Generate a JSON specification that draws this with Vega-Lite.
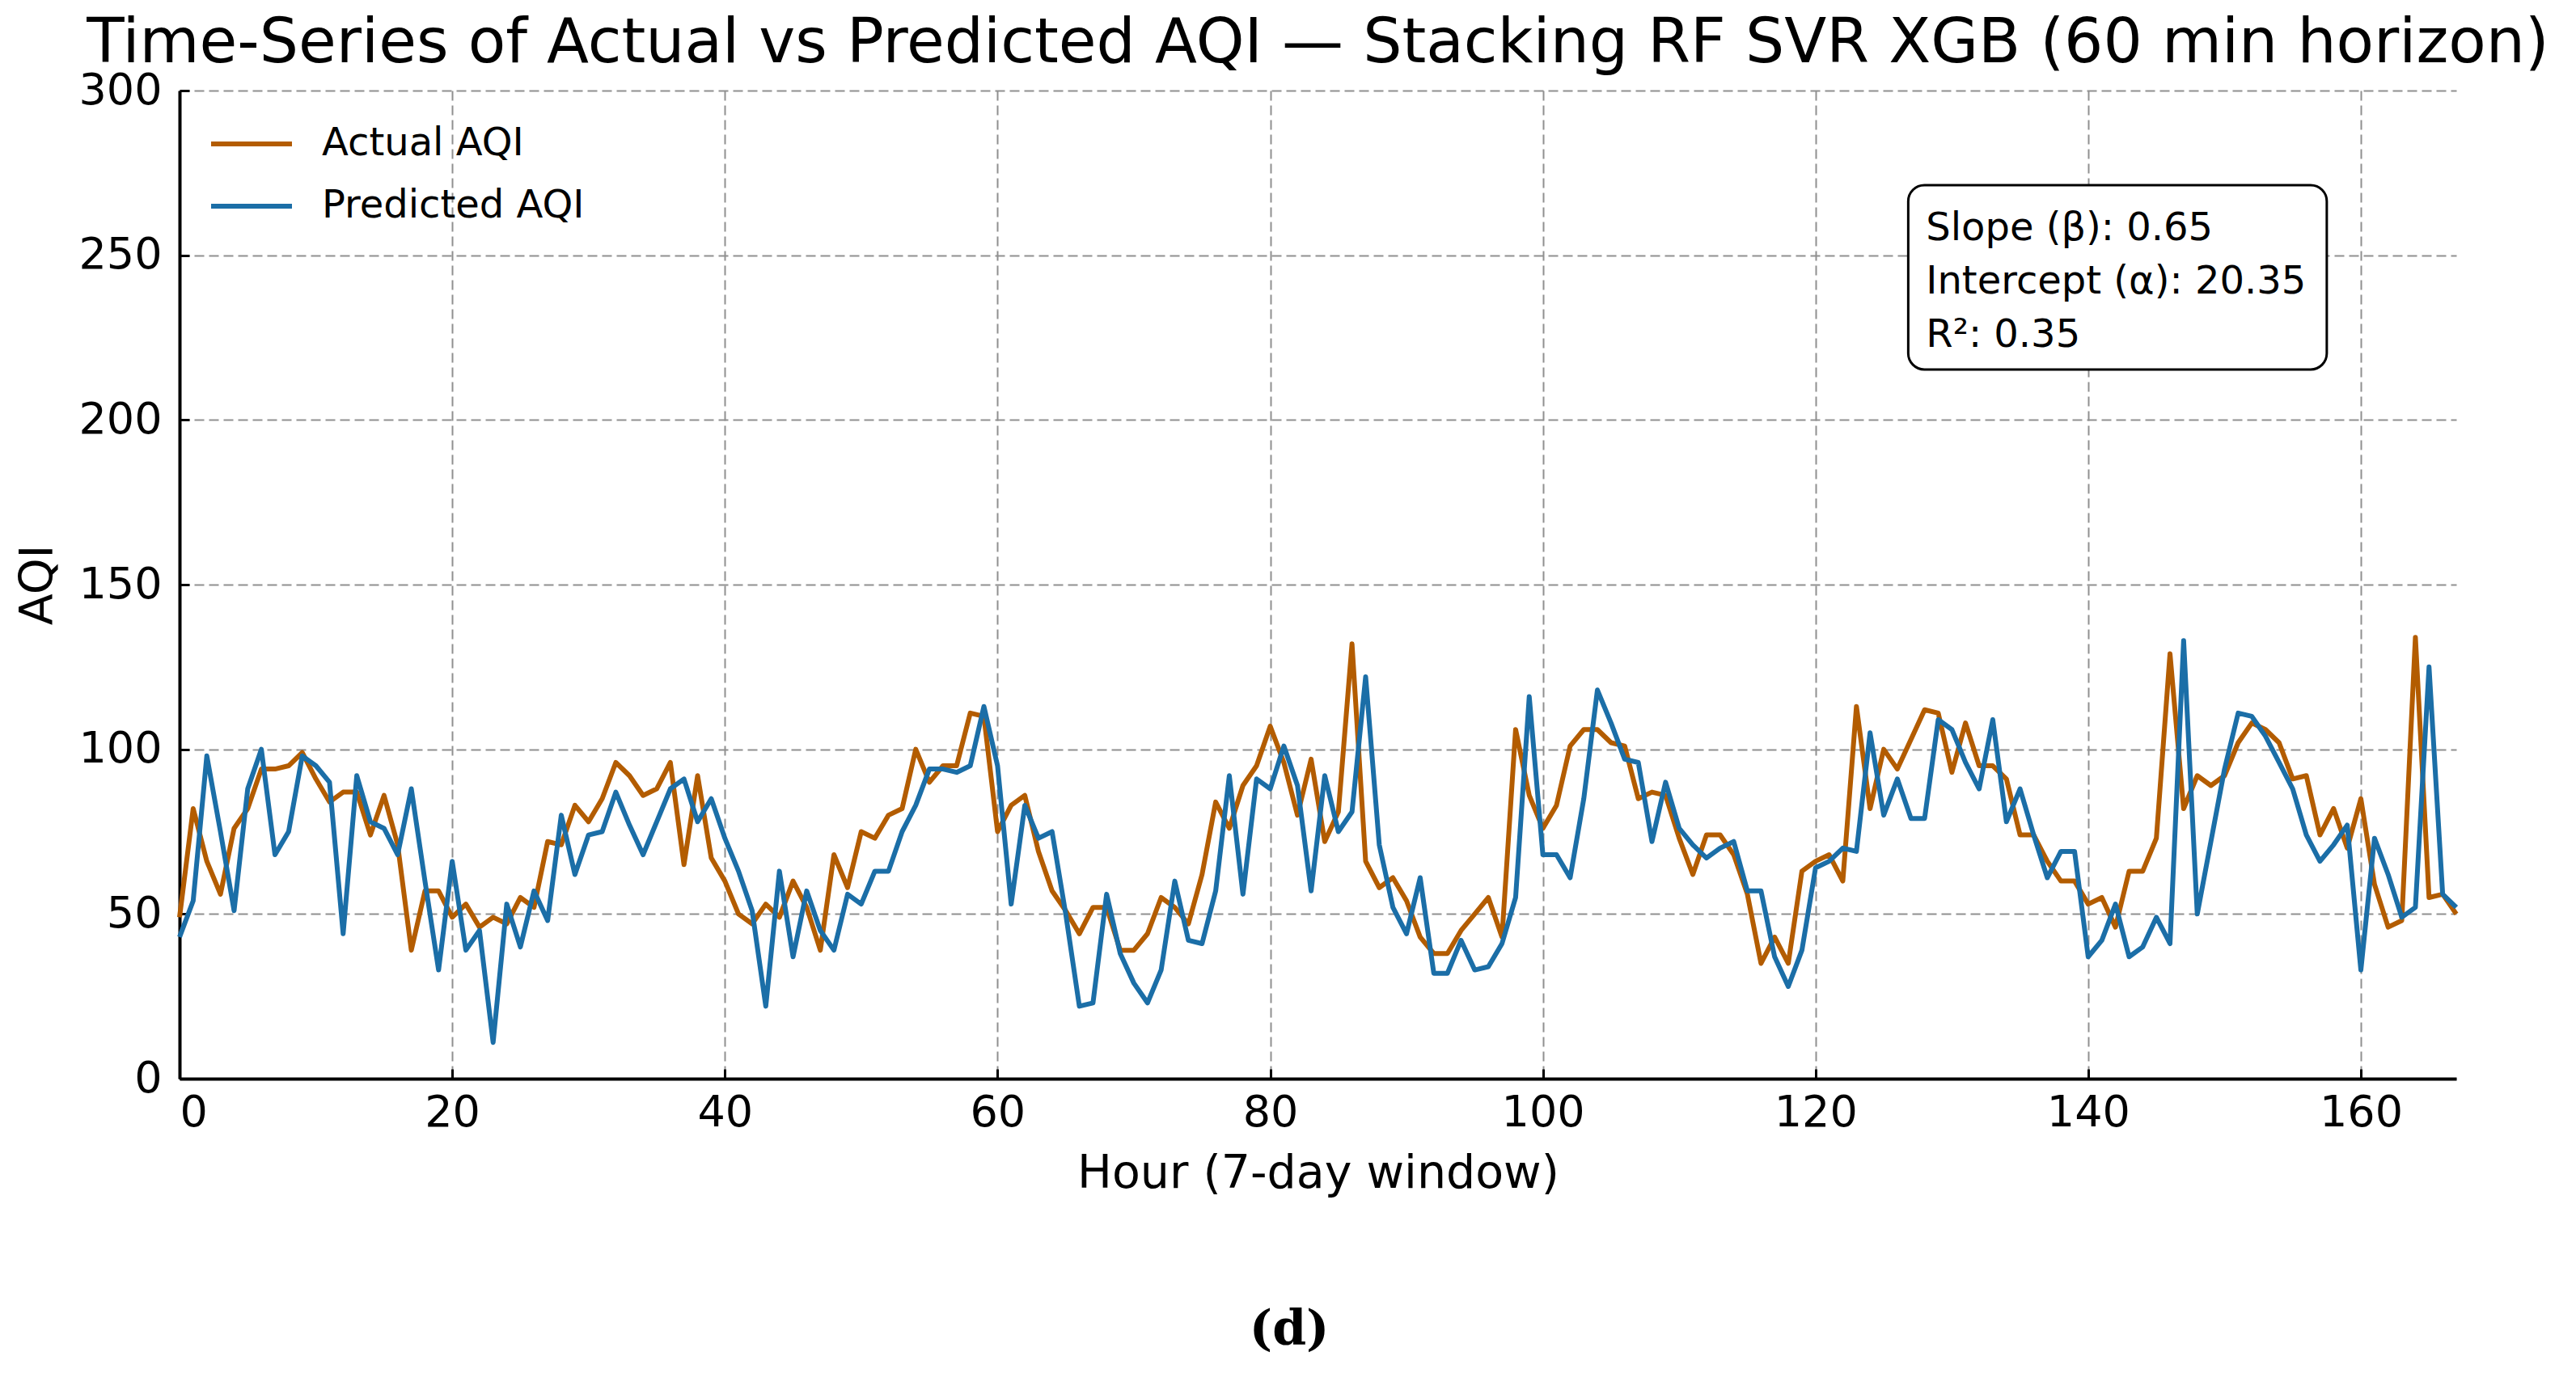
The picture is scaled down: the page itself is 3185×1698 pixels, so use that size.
{
  "$schema": "https://vega.github.io/schema/vega-lite/v6.json",
  "width": 2815,
  "height": 1222,
  "autosize": {"type": "none"},
  "padding": {"left": 222, "top": 112, "right": 148, "bottom": 364},
  "background": "white",
  "title": {
    "text": "Time-Series of Actual vs Predicted AQI — Stacking RF SVR XGB (60 min horizon)",
    "font": "DejaVu Sans",
    "fontSize": 76,
    "fontWeight": "normal",
    "color": "black",
    "anchor": "middle",
    "frame": "group",
    "offset": 14,
    "dy": 22
  },
  "config": {
    "view": {"stroke": null},
    "axis": {
      "grid": true,
      "gridDash": [12, 6],
      "gridColor": "#909090",
      "gridWidth": 2,
      "domainColor": "black",
      "domainWidth": 4,
      "tickColor": "black",
      "tickWidth": 3,
      "tickSize": -12,
      "labelFont": "DejaVu Sans",
      "labelFontSize": 54,
      "labelColor": "black",
      "titleFont": "DejaVu Sans",
      "titleFontSize": 57,
      "titleFontWeight": "normal",
      "titleColor": "black"
    },
    "legend": {
      "labelFont": "DejaVu Sans",
      "labelFontSize": 48,
      "labelColor": "black",
      "labelLimit": 0
    }
  },
  "layer": [
    {
      "data": {
        "values": [
          {"hour": 0, "Actual AQI": 49, "Predicted AQI": 43},
          {"hour": 1, "Actual AQI": 82, "Predicted AQI": 54},
          {"hour": 2, "Actual AQI": 66, "Predicted AQI": 98},
          {"hour": 3, "Actual AQI": 56, "Predicted AQI": 75},
          {"hour": 4, "Actual AQI": 76, "Predicted AQI": 51},
          {"hour": 5, "Actual AQI": 82, "Predicted AQI": 88},
          {"hour": 6, "Actual AQI": 94, "Predicted AQI": 100},
          {"hour": 7, "Actual AQI": 94, "Predicted AQI": 68},
          {"hour": 8, "Actual AQI": 95, "Predicted AQI": 75},
          {"hour": 9, "Actual AQI": 99, "Predicted AQI": 98},
          {"hour": 10, "Actual AQI": 91, "Predicted AQI": 95},
          {"hour": 11, "Actual AQI": 84, "Predicted AQI": 90},
          {"hour": 12, "Actual AQI": 87, "Predicted AQI": 44},
          {"hour": 13, "Actual AQI": 87, "Predicted AQI": 92},
          {"hour": 14, "Actual AQI": 74, "Predicted AQI": 78},
          {"hour": 15, "Actual AQI": 86, "Predicted AQI": 76},
          {"hour": 16, "Actual AQI": 71, "Predicted AQI": 68},
          {"hour": 17, "Actual AQI": 39, "Predicted AQI": 88},
          {"hour": 18, "Actual AQI": 57, "Predicted AQI": 60},
          {"hour": 19, "Actual AQI": 57, "Predicted AQI": 33},
          {"hour": 20, "Actual AQI": 49, "Predicted AQI": 66},
          {"hour": 21, "Actual AQI": 53, "Predicted AQI": 39},
          {"hour": 22, "Actual AQI": 46, "Predicted AQI": 45},
          {"hour": 23, "Actual AQI": 49, "Predicted AQI": 11},
          {"hour": 24, "Actual AQI": 47, "Predicted AQI": 53},
          {"hour": 25, "Actual AQI": 55, "Predicted AQI": 40},
          {"hour": 26, "Actual AQI": 52, "Predicted AQI": 57},
          {"hour": 27, "Actual AQI": 72, "Predicted AQI": 48},
          {"hour": 28, "Actual AQI": 71, "Predicted AQI": 80},
          {"hour": 29, "Actual AQI": 83, "Predicted AQI": 62},
          {"hour": 30, "Actual AQI": 78, "Predicted AQI": 74},
          {"hour": 31, "Actual AQI": 85, "Predicted AQI": 75},
          {"hour": 32, "Actual AQI": 96, "Predicted AQI": 87},
          {"hour": 33, "Actual AQI": 92, "Predicted AQI": 77},
          {"hour": 34, "Actual AQI": 86, "Predicted AQI": 68},
          {"hour": 35, "Actual AQI": 88, "Predicted AQI": 78},
          {"hour": 36, "Actual AQI": 96, "Predicted AQI": 88},
          {"hour": 37, "Actual AQI": 65, "Predicted AQI": 91},
          {"hour": 38, "Actual AQI": 92, "Predicted AQI": 78},
          {"hour": 39, "Actual AQI": 67, "Predicted AQI": 85},
          {"hour": 40, "Actual AQI": 60, "Predicted AQI": 73},
          {"hour": 41, "Actual AQI": 50, "Predicted AQI": 63},
          {"hour": 42, "Actual AQI": 47, "Predicted AQI": 51},
          {"hour": 43, "Actual AQI": 53, "Predicted AQI": 22},
          {"hour": 44, "Actual AQI": 49, "Predicted AQI": 63},
          {"hour": 45, "Actual AQI": 60, "Predicted AQI": 37},
          {"hour": 46, "Actual AQI": 52, "Predicted AQI": 57},
          {"hour": 47, "Actual AQI": 39, "Predicted AQI": 45},
          {"hour": 48, "Actual AQI": 68, "Predicted AQI": 39},
          {"hour": 49, "Actual AQI": 58, "Predicted AQI": 56},
          {"hour": 50, "Actual AQI": 75, "Predicted AQI": 53},
          {"hour": 51, "Actual AQI": 73, "Predicted AQI": 63},
          {"hour": 52, "Actual AQI": 80, "Predicted AQI": 63},
          {"hour": 53, "Actual AQI": 82, "Predicted AQI": 75},
          {"hour": 54, "Actual AQI": 100, "Predicted AQI": 83},
          {"hour": 55, "Actual AQI": 90, "Predicted AQI": 94},
          {"hour": 56, "Actual AQI": 95, "Predicted AQI": 94},
          {"hour": 57, "Actual AQI": 95, "Predicted AQI": 93},
          {"hour": 58, "Actual AQI": 111, "Predicted AQI": 95},
          {"hour": 59, "Actual AQI": 110, "Predicted AQI": 113},
          {"hour": 60, "Actual AQI": 75, "Predicted AQI": 95},
          {"hour": 61, "Actual AQI": 83, "Predicted AQI": 53},
          {"hour": 62, "Actual AQI": 86, "Predicted AQI": 83},
          {"hour": 63, "Actual AQI": 69, "Predicted AQI": 73},
          {"hour": 64, "Actual AQI": 57, "Predicted AQI": 75},
          {"hour": 65, "Actual AQI": 51, "Predicted AQI": 50},
          {"hour": 66, "Actual AQI": 44, "Predicted AQI": 22},
          {"hour": 67, "Actual AQI": 52, "Predicted AQI": 23},
          {"hour": 68, "Actual AQI": 52, "Predicted AQI": 56},
          {"hour": 69, "Actual AQI": 39, "Predicted AQI": 38},
          {"hour": 70, "Actual AQI": 39, "Predicted AQI": 29},
          {"hour": 71, "Actual AQI": 44, "Predicted AQI": 23},
          {"hour": 72, "Actual AQI": 55, "Predicted AQI": 33},
          {"hour": 73, "Actual AQI": 52, "Predicted AQI": 60},
          {"hour": 74, "Actual AQI": 47, "Predicted AQI": 42},
          {"hour": 75, "Actual AQI": 62, "Predicted AQI": 41},
          {"hour": 76, "Actual AQI": 84, "Predicted AQI": 57},
          {"hour": 77, "Actual AQI": 76, "Predicted AQI": 92},
          {"hour": 78, "Actual AQI": 89, "Predicted AQI": 56},
          {"hour": 79, "Actual AQI": 95, "Predicted AQI": 91},
          {"hour": 80, "Actual AQI": 107, "Predicted AQI": 88},
          {"hour": 81, "Actual AQI": 96, "Predicted AQI": 101},
          {"hour": 82, "Actual AQI": 80, "Predicted AQI": 89},
          {"hour": 83, "Actual AQI": 97, "Predicted AQI": 57},
          {"hour": 84, "Actual AQI": 72, "Predicted AQI": 92},
          {"hour": 85, "Actual AQI": 81, "Predicted AQI": 75},
          {"hour": 86, "Actual AQI": 132, "Predicted AQI": 81},
          {"hour": 87, "Actual AQI": 66, "Predicted AQI": 122},
          {"hour": 88, "Actual AQI": 58, "Predicted AQI": 71},
          {"hour": 89, "Actual AQI": 61, "Predicted AQI": 52},
          {"hour": 90, "Actual AQI": 54, "Predicted AQI": 44},
          {"hour": 91, "Actual AQI": 43, "Predicted AQI": 61},
          {"hour": 92, "Actual AQI": 38, "Predicted AQI": 32},
          {"hour": 93, "Actual AQI": 38, "Predicted AQI": 32},
          {"hour": 94, "Actual AQI": 45, "Predicted AQI": 42},
          {"hour": 95, "Actual AQI": 50, "Predicted AQI": 33},
          {"hour": 96, "Actual AQI": 55, "Predicted AQI": 34},
          {"hour": 97, "Actual AQI": 43, "Predicted AQI": 41},
          {"hour": 98, "Actual AQI": 106, "Predicted AQI": 55},
          {"hour": 99, "Actual AQI": 86, "Predicted AQI": 116},
          {"hour": 100, "Actual AQI": 76, "Predicted AQI": 68},
          {"hour": 101, "Actual AQI": 83, "Predicted AQI": 68},
          {"hour": 102, "Actual AQI": 101, "Predicted AQI": 61},
          {"hour": 103, "Actual AQI": 106, "Predicted AQI": 85},
          {"hour": 104, "Actual AQI": 106, "Predicted AQI": 118},
          {"hour": 105, "Actual AQI": 102, "Predicted AQI": 108},
          {"hour": 106, "Actual AQI": 101, "Predicted AQI": 97},
          {"hour": 107, "Actual AQI": 85, "Predicted AQI": 96},
          {"hour": 108, "Actual AQI": 87, "Predicted AQI": 72},
          {"hour": 109, "Actual AQI": 86, "Predicted AQI": 90},
          {"hour": 110, "Actual AQI": 73, "Predicted AQI": 76},
          {"hour": 111, "Actual AQI": 62, "Predicted AQI": 71},
          {"hour": 112, "Actual AQI": 74, "Predicted AQI": 67},
          {"hour": 113, "Actual AQI": 74, "Predicted AQI": 70},
          {"hour": 114, "Actual AQI": 68, "Predicted AQI": 72},
          {"hour": 115, "Actual AQI": 56, "Predicted AQI": 57},
          {"hour": 116, "Actual AQI": 35, "Predicted AQI": 57},
          {"hour": 117, "Actual AQI": 43, "Predicted AQI": 37},
          {"hour": 118, "Actual AQI": 35, "Predicted AQI": 28},
          {"hour": 119, "Actual AQI": 63, "Predicted AQI": 39},
          {"hour": 120, "Actual AQI": 66, "Predicted AQI": 64},
          {"hour": 121, "Actual AQI": 68, "Predicted AQI": 66},
          {"hour": 122, "Actual AQI": 60, "Predicted AQI": 70},
          {"hour": 123, "Actual AQI": 113, "Predicted AQI": 69},
          {"hour": 124, "Actual AQI": 82, "Predicted AQI": 105},
          {"hour": 125, "Actual AQI": 100, "Predicted AQI": 80},
          {"hour": 126, "Actual AQI": 94, "Predicted AQI": 91},
          {"hour": 127, "Actual AQI": 103, "Predicted AQI": 79},
          {"hour": 128, "Actual AQI": 112, "Predicted AQI": 79},
          {"hour": 129, "Actual AQI": 111, "Predicted AQI": 109},
          {"hour": 130, "Actual AQI": 93, "Predicted AQI": 106},
          {"hour": 131, "Actual AQI": 108, "Predicted AQI": 96},
          {"hour": 132, "Actual AQI": 95, "Predicted AQI": 88},
          {"hour": 133, "Actual AQI": 95, "Predicted AQI": 109},
          {"hour": 134, "Actual AQI": 91, "Predicted AQI": 78},
          {"hour": 135, "Actual AQI": 74, "Predicted AQI": 88},
          {"hour": 136, "Actual AQI": 74, "Predicted AQI": 74},
          {"hour": 137, "Actual AQI": 66, "Predicted AQI": 61},
          {"hour": 138, "Actual AQI": 60, "Predicted AQI": 69},
          {"hour": 139, "Actual AQI": 60, "Predicted AQI": 69},
          {"hour": 140, "Actual AQI": 53, "Predicted AQI": 37},
          {"hour": 141, "Actual AQI": 55, "Predicted AQI": 42},
          {"hour": 142, "Actual AQI": 46, "Predicted AQI": 53},
          {"hour": 143, "Actual AQI": 63, "Predicted AQI": 37},
          {"hour": 144, "Actual AQI": 63, "Predicted AQI": 40},
          {"hour": 145, "Actual AQI": 73, "Predicted AQI": 49},
          {"hour": 146, "Actual AQI": 129, "Predicted AQI": 41},
          {"hour": 147, "Actual AQI": 82, "Predicted AQI": 133},
          {"hour": 148, "Actual AQI": 92, "Predicted AQI": 50},
          {"hour": 149, "Actual AQI": 89, "Predicted AQI": 72},
          {"hour": 150, "Actual AQI": 92, "Predicted AQI": 94},
          {"hour": 151, "Actual AQI": 102, "Predicted AQI": 111},
          {"hour": 152, "Actual AQI": 108, "Predicted AQI": 110},
          {"hour": 153, "Actual AQI": 106, "Predicted AQI": 104},
          {"hour": 154, "Actual AQI": 102, "Predicted AQI": 96},
          {"hour": 155, "Actual AQI": 91, "Predicted AQI": 88},
          {"hour": 156, "Actual AQI": 92, "Predicted AQI": 74},
          {"hour": 157, "Actual AQI": 74, "Predicted AQI": 66},
          {"hour": 158, "Actual AQI": 82, "Predicted AQI": 71},
          {"hour": 159, "Actual AQI": 70, "Predicted AQI": 77},
          {"hour": 160, "Actual AQI": 85, "Predicted AQI": 33},
          {"hour": 161, "Actual AQI": 59, "Predicted AQI": 73},
          {"hour": 162, "Actual AQI": 46, "Predicted AQI": 62},
          {"hour": 163, "Actual AQI": 48, "Predicted AQI": 49},
          {"hour": 164, "Actual AQI": 134, "Predicted AQI": 52},
          {"hour": 165, "Actual AQI": 55, "Predicted AQI": 125},
          {"hour": 166, "Actual AQI": 56, "Predicted AQI": 56},
          {"hour": 167, "Actual AQI": 50, "Predicted AQI": 52}
        ]
      },
      "transform": [
        {"fold": ["Actual AQI", "Predicted AQI"], "as": ["series", "aqi"]}
      ],
      "mark": {"type": "line", "strokeWidth": 6, "strokeJoin": "round"},
      "encoding": {
        "x": {
          "field": "hour",
          "type": "quantitative",
          "scale": {"domain": [0, 167], "nice": false, "zero": false},
          "axis": {
            "values": [0, 20, 40, 60, 80, 100, 120, 140, 160],
            "title": "Hour (7-day window)",
            "labelPadding": 27,
            "titlePadding": 20
          }
        },
        "y": {
          "field": "aqi",
          "type": "quantitative",
          "scale": {"domain": [0, 300], "nice": false},
          "axis": {
            "values": [0, 50, 100, 150, 200, 250, 300],
            "title": "AQI",
            "labelPadding": 34,
            "titlePadding": 20
          }
        },
        "color": {
          "field": "series",
          "type": "nominal",
          "scale": {
            "domain": ["Actual AQI", "Predicted AQI"],
            "range": ["#b35c00", "#1b6ea7"]
          },
          "legend": {
            "title": null,
            "orient": "none",
            "legendX": 36,
            "legendY": 13,
            "symbolType": "stroke",
            "symbolStrokeWidth": 6,
            "symbolSize": 10000,
            "labelOffset": 34,
            "rowPadding": -8
          }
        }
      }
    },
    {
      "data": {"values": [{"box": "stats"}]},
      "mark": {
        "type": "rect",
        "fill": "white",
        "stroke": "black",
        "strokeWidth": 3,
        "cornerRadius": 20
      },
      "encoding": {
        "x": {"datum": 126.8, "type": "quantitative"},
        "x2": {"datum": 157.5},
        "y": {"datum": 271.3, "type": "quantitative"},
        "y2": {"datum": 215.3}
      }
    },
    {
      "data": {"values": [{"box": "stats"}]},
      "mark": {
        "type": "text",
        "font": "DejaVu Sans",
        "fontSize": 48,
        "align": "left",
        "baseline": "top",
        "lineHeight": 66,
        "color": "black"
      },
      "encoding": {
        "x": {"datum": 128.1, "type": "quantitative"},
        "y": {"datum": 264, "type": "quantitative"},
        "text": {"value": ["Slope (β): 0.65", "Intercept (α): 20.35", "R²: 0.35"]}
      }
    },
    {
      "data": {"values": [{"label": "(d)"}]},
      "mark": {
        "type": "text",
        "font": "DejaVu Serif",
        "fontSize": 60,
        "fontWeight": "bold",
        "align": "center",
        "baseline": "middle",
        "color": "black"
      },
      "encoding": {
        "x": {"datum": 81.4, "type": "quantitative"},
        "y": {"datum": -76.4, "type": "quantitative"},
        "text": {"field": "label"}
      }
    }
  ]
}
